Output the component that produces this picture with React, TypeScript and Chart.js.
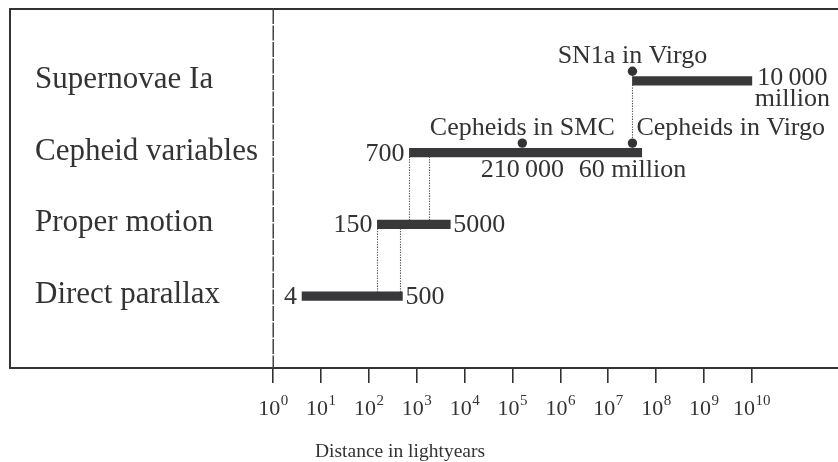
import React, { useEffect, useRef } from 'react';
import { Chart, registerables } from 'chart.js';

Chart.register(...registerables);

// ---------- data ----------
const categories = ['Supernovae Ia', 'Cepheid variables', 'Proper motion', 'Direct parallax'];
const rangeStart = [3.2e7, 700, 150, 4];
const rangeEnd = [1e10, 5e7, 5000, 500];
const startLabels = ['', '700', '150', '4'];
const endLabels = [['10\u2009000', 'million'], [], ['5000'], ['500']];

const tickExponents = [0, 1, 2, 3, 4, 5, 6, 7, 8, 9, 10];

const markerNames = ['SN1a in Virgo', 'Cepheids in SMC', 'Cepheids in Virgo'];
const markerValues = [3.2e7, 1.6e5, 3.2e7];
const markerRows = ['Supernovae Ia', 'Cepheid variables', 'Cepheid variables'];
const markerBelowLabels = ['', '210\u2009000', '60 million'];

const connectorValues = [3.2e7, 700, 1800, 150, 450];
const connectorUpper = ['Supernovae Ia', 'Cepheid variables', 'Cepheid variables', 'Proper motion', 'Proper motion'];
const connectorLower = ['Cepheid variables', 'Proper motion', 'Proper motion', 'Direct parallax', 'Direct parallax'];

const xAxisTitle = 'Distance in lightyears';

// ---------- styles ----------
const INK = '#333333';
const BAR_COLOR = '#38383b';
const SERIF = '"Liberation Serif", "Times New Roman", serif';
const MARKER_ALIGN: CanvasTextAlign[] = ['center', 'center', 'left'];
const TITLE_X = 400;

const overlayPlugin = {
  id: 'overlay',
  beforeDatasetsDraw(chart: any) {
    const { ctx, chartArea, scales } = chart;
    const x = scales.x;
    const y = scales.y;
    const rowY = (name: string) => y.getPixelForValue(categories.indexOf(name) + 1);
    ctx.save();
    // box
    ctx.strokeStyle = INK;
    ctx.lineWidth = 2;
    ctx.setLineDash([]);
    ctx.beginPath();
    ctx.moveTo(chart.width + 2, chartArea.top);
    ctx.lineTo(chartArea.left, chartArea.top);
    ctx.lineTo(chartArea.left, chartArea.bottom);
    ctx.lineTo(chart.width + 2, chartArea.bottom);
    ctx.stroke();
    // dashed line at 10^0
    const x0 = x.getPixelForValue(1);
    ctx.strokeStyle = '#444';
    ctx.lineWidth = 1.5;
    ctx.setLineDash([15, 1.5]);
    ctx.beginPath();
    ctx.moveTo(x0, chartArea.top);
    ctx.lineTo(x0, chartArea.bottom);
    ctx.stroke();
    // dotted connectors
    ctx.strokeStyle = '#555';
    ctx.lineWidth = 1.1;
    ctx.setLineDash([1.3, 1.3]);
    connectorValues.forEach((v, i) => {
      const px = Math.round(x.getPixelForValue(v)) + 0.5;
      ctx.beginPath();
      ctx.moveTo(px, rowY(connectorUpper[i]) + 4);
      ctx.lineTo(px, rowY(connectorLower[i]) - 4);
      ctx.stroke();
    });
    ctx.restore();
  },
  afterDatasetsDraw(chart: any) {
    const { ctx, chartArea, scales } = chart;
    const x = scales.x;
    const y = scales.y;
    const rowY = (name: string) => y.getPixelForValue(categories.indexOf(name) + 1);
    ctx.save();
    ctx.fillStyle = INK;
    ctx.textBaseline = 'alphabetic';

    // category labels
    ctx.font = `31px ${SERIF}`;
    ctx.textAlign = 'left';
    categories.forEach((c) => {
      ctx.fillText(c, chartArea.left + 25, rowY(c) + 7);
    });

    // range labels
    ctx.font = `26px ${SERIF}`;
    categories.forEach((c, i) => {
      const ry = rowY(c);
      const xs = x.getPixelForValue(rangeStart[i]);
      const xe = x.getPixelForValue(rangeEnd[i]);
      if (startLabels[i]) {
        ctx.textAlign = 'right';
        ctx.fillText(startLabels[i], xs - 5, ry + 8);
      }
      const lines = endLabels[i];
      if (lines.length === 1) {
        ctx.textAlign = 'left';
        ctx.fillText(lines[0], xe + 3, ry + 8);
      } else if (lines.length > 1) {
        const w = Math.max(...lines.map((l) => ctx.measureText(l).width));
        const cx = xe + 3 + w / 2;
        ctx.textAlign = 'center';
        lines.forEach((l, k) => ctx.fillText(l, cx, ry + 4 + k * 21));
      }
    });

    // markers
    markerValues.forEach((v, i) => {
      const px = x.getPixelForValue(v);
      const ry = rowY(markerRows[i]);
      ctx.beginPath();
      ctx.arc(px, ry - 9.5, 4.7, 0, Math.PI * 2);
      ctx.fill();
      ctx.textAlign = MARKER_ALIGN[i];
      ctx.fillText(markerNames[i], MARKER_ALIGN[i] === 'left' ? px + 4 : px, ry - 18);
      if (markerBelowLabels[i]) {
        ctx.textAlign = 'center';
        ctx.fillText(markerBelowLabels[i], px, ry + 24);
      }
    });

    // x tick labels with superscripts
    tickExponents.forEach((e) => {
      const px = x.getPixelForValue(Math.pow(10, e));
      ctx.font = `22px ${SERIF}`;
      const w1 = ctx.measureText('10').width;
      ctx.font = `15px ${SERIF}`;
      const w2 = ctx.measureText(String(e)).width;
      const left = px - (w1 + w2 + 0.5) / 2;
      ctx.textAlign = 'left';
      ctx.font = `22px ${SERIF}`;
      ctx.fillText('10', left, 415);
      ctx.font = `15px ${SERIF}`;
      ctx.fillText(String(e), left + w1 + 0.5, 405);
    });

    // axis title
    ctx.font = `19.5px ${SERIF}`;
    ctx.textAlign = 'center';
    ctx.fillText(xAxisTitle, TITLE_X, 457);
    ctx.restore();
  },
};

export default function App() {
  const ref = useRef<HTMLCanvasElement>(null);
  useEffect(() => {
    const chart = new Chart(ref.current as HTMLCanvasElement, {
      type: 'bar',
      data: {
        datasets: [
          {
            data: categories.map((c, i) => ({ x: [rangeStart[i], rangeEnd[i]], y: i + 1 })) as any,
            backgroundColor: BAR_COLOR,
            borderWidth: 0,
            barThickness: 8.5,
            borderSkipped: false,
          },
        ],
      },
      options: {
        indexAxis: 'y',
        responsive: false,
        animation: false,
        events: [],
        devicePixelRatio: 1,
        layout: { padding: { left: 10, top: 9, right: 0, bottom: 79 } },
        plugins: { legend: { display: false }, tooltip: { enabled: false } },
        scales: {
          x: {
            type: 'logarithmic',
            min: Math.pow(10, -5.5),
            max: Math.pow(10, 11.8),
            offset: false,
            afterBuildTicks: (s: any) => {
              s.ticks = tickExponents.map((e) => ({ value: Math.pow(10, e) }));
            },
            ticks: { display: false },
            grid: { offset: false, drawOnChartArea: false, drawTicks: true, tickLength: 15, color: INK, lineWidth: 1.6 },
            border: { display: false },
          },
          y: {
            type: 'linear',
            display: false,
            min: 0,
            max: 5,
            reverse: true,
            offset: false,
            grid: { offset: false },
          },
        },
      } as any,
      plugins: [overlayPlugin],
    });
    return () => chart.destroy();
  }, []);
  return (
    <div style={{ position: 'absolute', left: 0, top: 0, width: 838, height: 462, overflow: 'hidden', background: '#fff' }}>
      <canvas ref={ref} width={838} height={462} />
    </div>
  );
}
